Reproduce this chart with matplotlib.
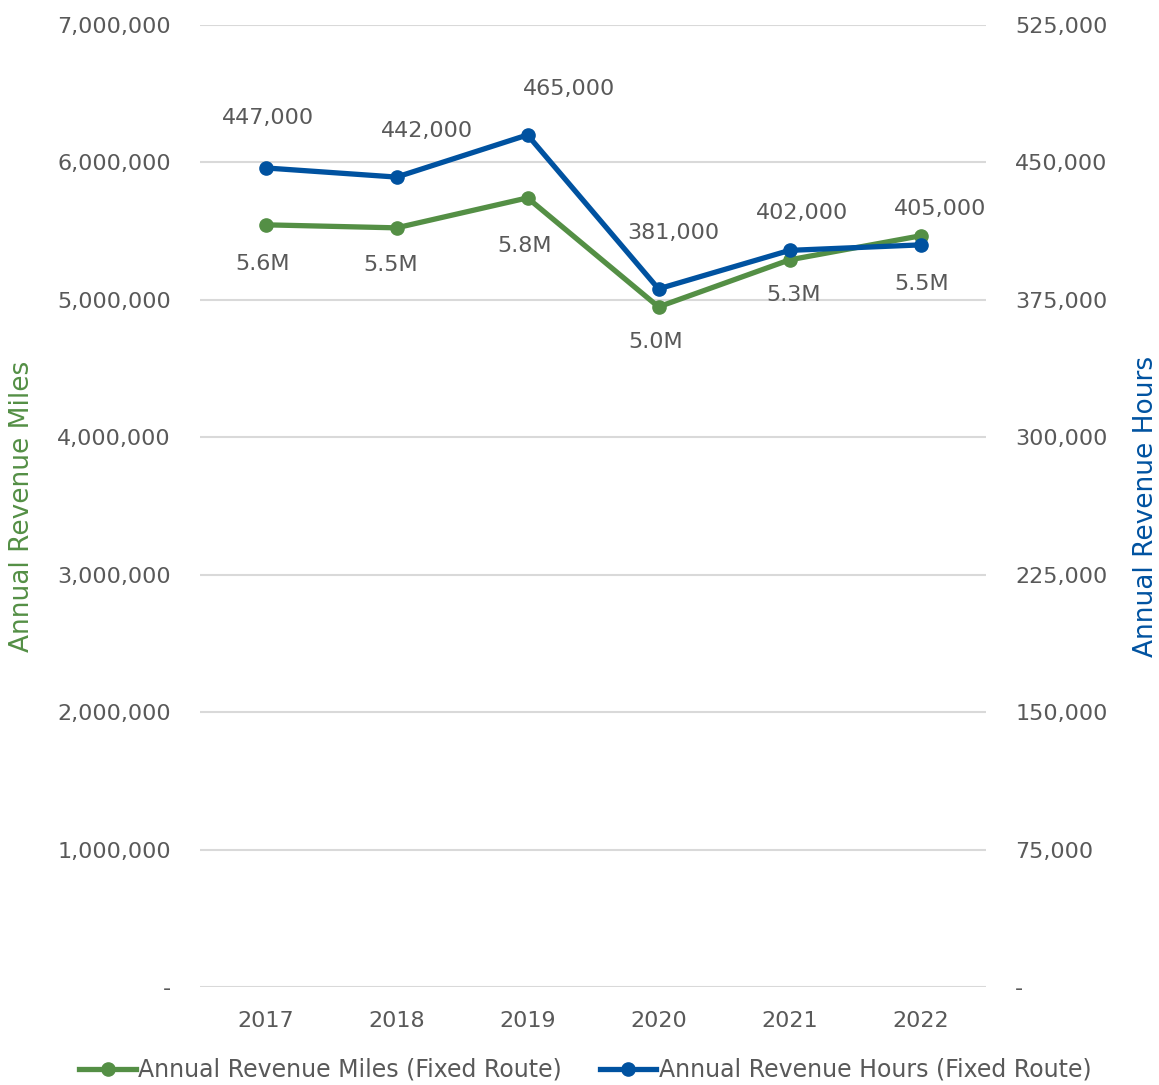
import matplotlib
matplotlib.use("Agg")
import matplotlib.pyplot as plt
from matplotlib.ticker import FuncFormatter

years = ["2017", "2018", "2019", "2020", "2021", "2022"]
revenue_miles = [5546000, 5524000, 5742000, 4949000, 5291000, 5466000]
miles_labels = ["5.6M", "5.5M", "5.8M", "5.0M", "5.3M", "5.5M"]
revenue_hours = [447000, 442000, 465000, 381000, 402000, 405000]

green = "#548f45"
blue = "#0052a0"
gray = "#595959"
grid = "#d9d9d9"

plt.rcParams["font.family"] = ["DejaVu Sans"]

fig = plt.figure(figsize=(11.59, 10.85), dpi=100)
ax = fig.add_axes([200 / 1159, 98 / 1085, 786 / 1159, 962 / 1085])
ax2 = ax.twinx()

x = list(range(len(years)))

ax.set_ylim(0, 7_000_000)
ax2.set_ylim(0, 525_000)
ax.set_xlim(-0.5, len(years) - 0.5)
ax.set_yticks(range(0, 7_000_001, 1_000_000))
ax2.set_yticks(range(0, 525_001, 75_000))
ax.yaxis.set_major_formatter(FuncFormatter(lambda v, p: "-" if v == 0 else f"{int(v):,}"))
ax2.yaxis.set_major_formatter(FuncFormatter(lambda v, p: "-" if v == 0 else f"{int(v):,}"))
ax.set_xticks(x)
ax.set_xticklabels(years)

ax.grid(axis="y", color=grid, linewidth=1.5)
ax.set_axisbelow(True)
for a in (ax, ax2):
    for s in a.spines.values():
        s.set_visible(False)
    a.tick_params(length=0, colors=gray, labelsize=16)
ax.tick_params(axis="y", pad=21)
ax2.tick_params(axis="y", pad=21)
ax.tick_params(axis="x", pad=17)

ax.set_ylabel("Annual Revenue Miles", color=green, fontsize=19, labelpad=16)
ax2.set_ylabel("Annual Revenue Hours", color=blue, fontsize=19, labelpad=18)

l1, = ax.plot(x, revenue_miles, color=green, linewidth=3.8, marker="o",
              markersize=9.5, label="Annual Revenue Miles (Fixed Route)", zorder=3)
l2, = ax2.plot(x, revenue_hours, color=blue, linewidth=3.8, marker="o",
               markersize=9.5, label="Annual Revenue Hours (Fixed Route)", zorder=3)

# label offsets in points (dx, dy)
hours_off = [(2, 36), (22, 33), (30, 33), (11, 40), (9, 27), (14, 26)]
miles_off = [(-2, -28), (-4, -27), (-2, -35), (-2, -25), (3, -25), (1, -35)]

for i in x:
    ax2.annotate(f"{revenue_hours[i]:,}", (i, revenue_hours[i]),
                 xytext=hours_off[i], textcoords="offset points",
                 ha="center", va="center", color=gray, fontsize=16)
    ax.annotate(miles_labels[i], (i, revenue_miles[i]),
                xytext=miles_off[i], textcoords="offset points",
                ha="center", va="center", color=gray, fontsize=16)

fig.legend(handles=[l1, l2], loc="center", bbox_to_anchor=(0.505, 1 - 1070 / 1085),
           ncol=2, frameon=False, fontsize=17, handlelength=2.4,
           handletextpad=0.1, columnspacing=1.6, labelcolor=gray)

fig.savefig("out.png", dpi=100)
